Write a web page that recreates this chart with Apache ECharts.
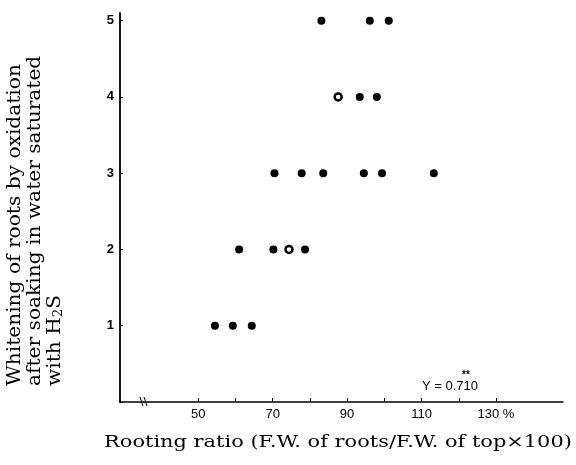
<!DOCTYPE html>
<html>
<head>
<meta charset="utf-8">
<script src="https://cdn.jsdelivr.net/npm/echarts@6/dist/echarts.min.js"></script>
<style>
  html, body { margin: 0; padding: 0; background: #fff; }
  #chart { width: 576px; height: 465px; }
</style>
</head>
<body>
<div id="chart"></div>
<script>
// Rooting ratio (%) and whitening score for each plant (filled dots)
const rootingRatio = [83.1, 96.1, 101.2, 93.4, 98.0, 70.5, 77.8, 83.6, 94.5, 99.4, 113.3, 61.0, 70.2, 78.7, 54.5, 59.3, 64.4];
const whitening    = [5, 5, 5, 4, 4, 3, 3, 3, 3, 3, 3, 2, 2, 2, 1, 1, 1];
// Plants drawn with open circles
const rootingRatioOpen = [87.6, 74.4];
const whiteningOpen    = [4, 2];

const xTickValues  = [50, 60, 70, 80, 90, 100, 110, 120, 130];
const xLabelValues = [50, 70, 90, 110, 130];
const correlationText = 'Υ = 0.710';

const toPairs = (xs, ys) => xs.map((x, i) => [x, ys[i]]);

const ink = '#000';
const chart = echarts.init(document.getElementById('chart'));
chart.setOption({
  backgroundColor: '#fff',
  animation: false,
  grid: { left: 120, right: 13, top: 13, bottom: 63 },
  xAxis: {
    type: 'value', min: 29, max: 148,
    axisLine: { show: true, lineStyle: { color: ink, width: 1.5 } },
    axisTick: { show: true, inside: true, length: 4, customValues: xTickValues, lineStyle: { color: ink } },
    axisLabel: {
      customValues: xLabelValues, margin: 6, color: ink,
      fontFamily: 'Liberation Sans', fontSize: 13,
      formatter: v => v === 130 ? '130 %' : String(v)
    },
    splitLine: { show: false }
  },
  yAxis: {
    type: 'value', min: 0, max: 5.1, interval: 1,
    axisLine: { show: true, lineStyle: { color: ink, width: 1.8 } },
    axisTick: { show: true, inside: true, length: 3, lineStyle: { color: ink } },
    axisLabel: {
      margin: 6, color: ink, fontFamily: 'Liberation Sans', fontSize: 13, fontWeight: 'bold',
      formatter: v => v === 0 ? '' : String(v)
    },
    splitLine: { show: false }
  },
  series: [
    {
      type: 'scatter', symbol: 'circle', symbolSize: 8,
      itemStyle: { color: ink, opacity: 1 },
      data: toPairs(rootingRatio, whitening)
    },
    {
      type: 'scatter', symbol: 'circle', symbolSize: 7,
      itemStyle: { color: '#fff', borderColor: ink, borderWidth: 2.5, opacity: 1 },
      data: toPairs(rootingRatioOpen, whiteningOpen)
    }
  ],
  graphic: [
    // axis break marks
    { type: 'line', shape: { x1: 140, y1: 397, x2: 143, y2: 406 }, style: { stroke: ink, lineWidth: 1 } },
    { type: 'line', shape: { x1: 144, y1: 397, x2: 147, y2: 406 }, style: { stroke: ink, lineWidth: 1 } },
    {
      type: 'text', x: 422, y: 386,
      style: { text: correlationText, fontFamily: 'Liberation Sans', fontSize: 13, fill: ink, textVerticalAlign: 'middle' }
    },
    {
      type: 'text', x: 462, y: 375,
      style: { text: '**', fontFamily: 'Liberation Sans', fontSize: 10, fontWeight: 'bold', fill: ink, textVerticalAlign: 'middle' }
    },
    {
      type: 'text', x: 338, y: 443, scaleX: 1.23,
      style: {
        text: 'Rooting ratio (F.W. of roots/F.W. of top×100)',
        fontFamily: 'DejaVu Serif', fontSize: 17, fill: ink,
        textAlign: 'center', textVerticalAlign: 'middle'
      }
    },
    {
      type: 'text', x: 5, y: 386, rotation: Math.PI / 2, scaleX: 1.12,
      style: {
        text: 'Whitening of roots by oxidation\nafter soaking in water saturated\nwith H{sub|2}S',
        fontFamily: 'DejaVu Serif', fontSize: 18, lineHeight: 20, fill: ink,
        textAlign: 'left', textVerticalAlign: 'top',
        rich: { sub: { fontFamily: 'DejaVu Serif', fontSize: 12, verticalAlign: 'bottom', padding: [8, 0, 0, 0], fill: ink } }
      }
    }
  ]
});
</script>
</body>
</html>
